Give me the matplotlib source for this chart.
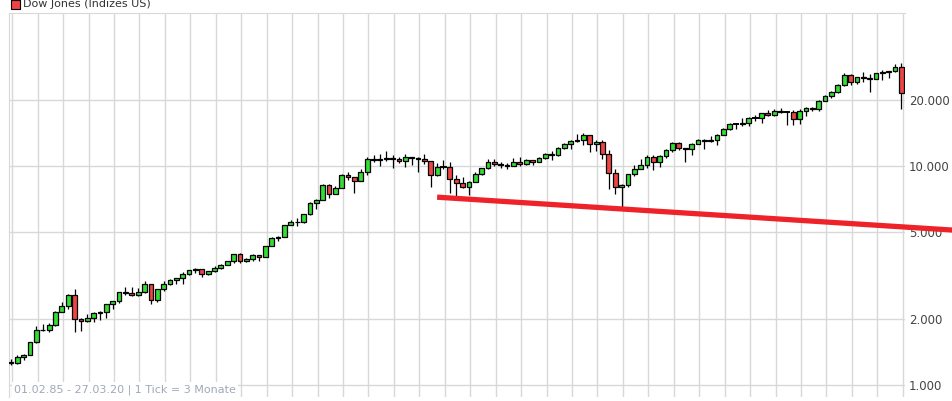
import matplotlib
matplotlib.use("Agg")
import matplotlib.pyplot as plt
from matplotlib.patches import Rectangle
from matplotlib.ticker import FixedLocator, NullLocator, NullFormatter

first_open = 1277
closes = [1258,1348,1375,1571, 1784,1775,1878,2158, 2286,2572,1994,1958, 2032,2129,2149,2342,
          2419,2661,2645,2591, 2657,2905,2442,2736, 2888,3025,3069,3223, 3359,3394,3226,3310,
          3428,3540,3681,3978, 3681,3765,3908,3844, 4321,4709,4756,5395, 5569,5529,6029,6813,
          7009,8223,7442,7907, 9063,8883,8592,9359, 10789,10655,10729,10941, 10734,10522,10971,10887,
          10735,10523,9075,9920, 9946,8737,8397,8054, 8480,9234,9801,10488, 10226,10140,10027,10490,
          10193,10641,10440,10865, 11367,11186,12081,12622, 13063,13212,13930,12650, 12820,11378,9325,8001,
          8168,9172,9713,10067, 11009,10466,11118,11892, 12811,12143,11955,12633, 13214,13009,13096,13861,
          14840,15500,15546,15699, 16581,16563,17391,17165, 17841,17690,17664,16466, 17774,18432,18142,19864,
          20941,21891,23377,26149, 24163,25415,25116,24999, 26593,26864,27046,28256, 21637]
highs = [1310,1370,1390,1580, 1860,1910,1920,2170, 2405,2600,2747,2030, 2110,2160,2180,2345,
         2420,2670,2800,2810, 2780,3000,2900,2740, 3000,3040,3090,3280, 3370,3420,3400,3330,
         3480,3580,3700,3980, 3990,3800,3960,3920, 4330,4730,4800,5400, 5690,5780,6060,6880,
         7100,8250,8300,8150, 9200,9370,8900,9650, 11000,11200,11330,11750, 11290,11000,11400,11000,
         11000,11350,10600,10300, 10670,10400,9080,8930, 8550,9400,9850,10750, 10750,10450,10340,10870,
         10980,10720,10700,11050, 11450,11700,12200,12700, 13200,14000,14200,13800, 13200,13200,11800,9650,
         8300,9200,10120,10730, 11260,11200,11250,12000, 12900,12900,12100,12800, 13300,13300,13660,14000,
         14900,15700,15700,16600, 16700,17150,17400,18100, 18300,18350,17900,17980, 18200,18620,18670,20130,
         21170,21930,23600,26620, 26300,25500,26950,26300, 26700,27400,27300,29400, 29570]
lows = [1240,1250,1300,1370, 1560,1760,1755,1860, 2150,2215,1738,1766, 1940,1940,1990,2030,
        2220,2370,2570,2540, 2560,2640,2350,2400, 2700,2860,2900,2900, 3170,3250,3130,3190,
        3300,3400,3530,3600, 3590,3630,3680,3670, 3830,4300,4560,4750, 5360,5300,5520,6000,
        6390,7000,7160,7580, 7900,8600,7540,8600, 9100,10400,10000,10600, 9800,10300,9900,10150,
        9390,10200,8060,9000, 9670,7530,7200,7950, 7400,8450,9080,9650, 10000,9850,9700,10000,
        10000,10100,10150,10400, 10800,10700,11100,12000, 12000,12900,12500,11600, 11700,10800,7880,7450,
        6470,8000,9000,9700, 9830,9600,9930,10900, 11550,11800,10400,11200, 12600,12000,12850,12500,
        13800,14600,14700,15300, 15300,16000,15800,17000, 17000,17500,15370,15450, 15500,17000,17900,17880,
        19800,20550,21600,23240, 23340,23800,24100,21700, 25000,24700,25300,27000, 18200]
ytick_values = [1000, 2000, 5000, 10000, 20000]
ytick_labels = ["1.000", "2.000", "5.000", "10.000", "20.000"]
trend_x = [67.0, 148.1]
trend_y = [7210, 5100]

fig = plt.figure(figsize=(9.53, 4.01), dpi=100)
ax = fig.add_axes([9/953, 4/401, 896/953, 384/401])
ax.set_yscale("log")
ax.set_ylim(882, 50000)
ax.set_xlim(-0.31, 140.56)

opens = [first_open] + closes[:-1]
w = 0.75
for i, (o, h, l, c) in enumerate(zip(opens, highs, lows, closes)):
    col = "#33dd33" if c >= o else "#ee4444"
    ax.plot([i, i], [l, h], color="black", lw=0.9, zorder=2, solid_capstyle="butt")
    lo, hi = min(o, c), max(o, c)
    if hi / lo < 1.004:
        ax.plot([i - w/2, i + w/2], [c, c], color="black", lw=1.4, zorder=3)
    else:
        ax.add_patch(Rectangle((i - w/2, lo), w, hi - lo, facecolor=col,
                               edgecolor="black", lw=0.9, zorder=3))

ax.plot(trend_x, trend_y, color="#ee2229", lw=3.8, clip_on=False, zorder=4,
        solid_capstyle="butt")

ax.yaxis.set_major_locator(FixedLocator(ytick_values))
ax.yaxis.set_minor_locator(NullLocator())
ax.yaxis.set_minor_formatter(NullFormatter())
ax.set_yticks(ytick_values)
ax.set_yticklabels(ytick_labels)
ax.yaxis.tick_right()
ax.tick_params(axis="y", length=0, pad=3, labelsize=8.5, labelcolor="#444444")
ax.set_xticks([0.2 + 4*k for k in range(36)])
ax.tick_params(axis="x", length=0, labelbottom=False)
ax.grid(True, color="#d8d8d8", lw=1.0, zorder=0)
ax.set_axisbelow(True)
for s in ax.spines.values():
    s.set_visible(False)
for k in ("top", "left"):
    ax.spines[k].set_visible(True)
    ax.spines[k].set_color("#d8d8d8")

fig.patches.append(Rectangle((11/953, 1 - 9/401), 9/953, 9/401, transform=fig.transFigure,
                             facecolor="#ee4444", edgecolor="black", lw=0.8))
fig.text(23/953, 1 - 4/401, "Dow Jones (Indizes US)", fontsize=8, color="#333333",
         va="center", ha="left")
ax.text(0.006, 0.005, "01.02.85 - 27.03.20 | 1 Tick = 3 Monate", transform=ax.transAxes,
        fontsize=8, color="#a0a8b8", va="bottom", ha="left",
        bbox=dict(facecolor="white", edgecolor="none", pad=1.5), zorder=6)

fig.savefig("out.png", dpi=100)
